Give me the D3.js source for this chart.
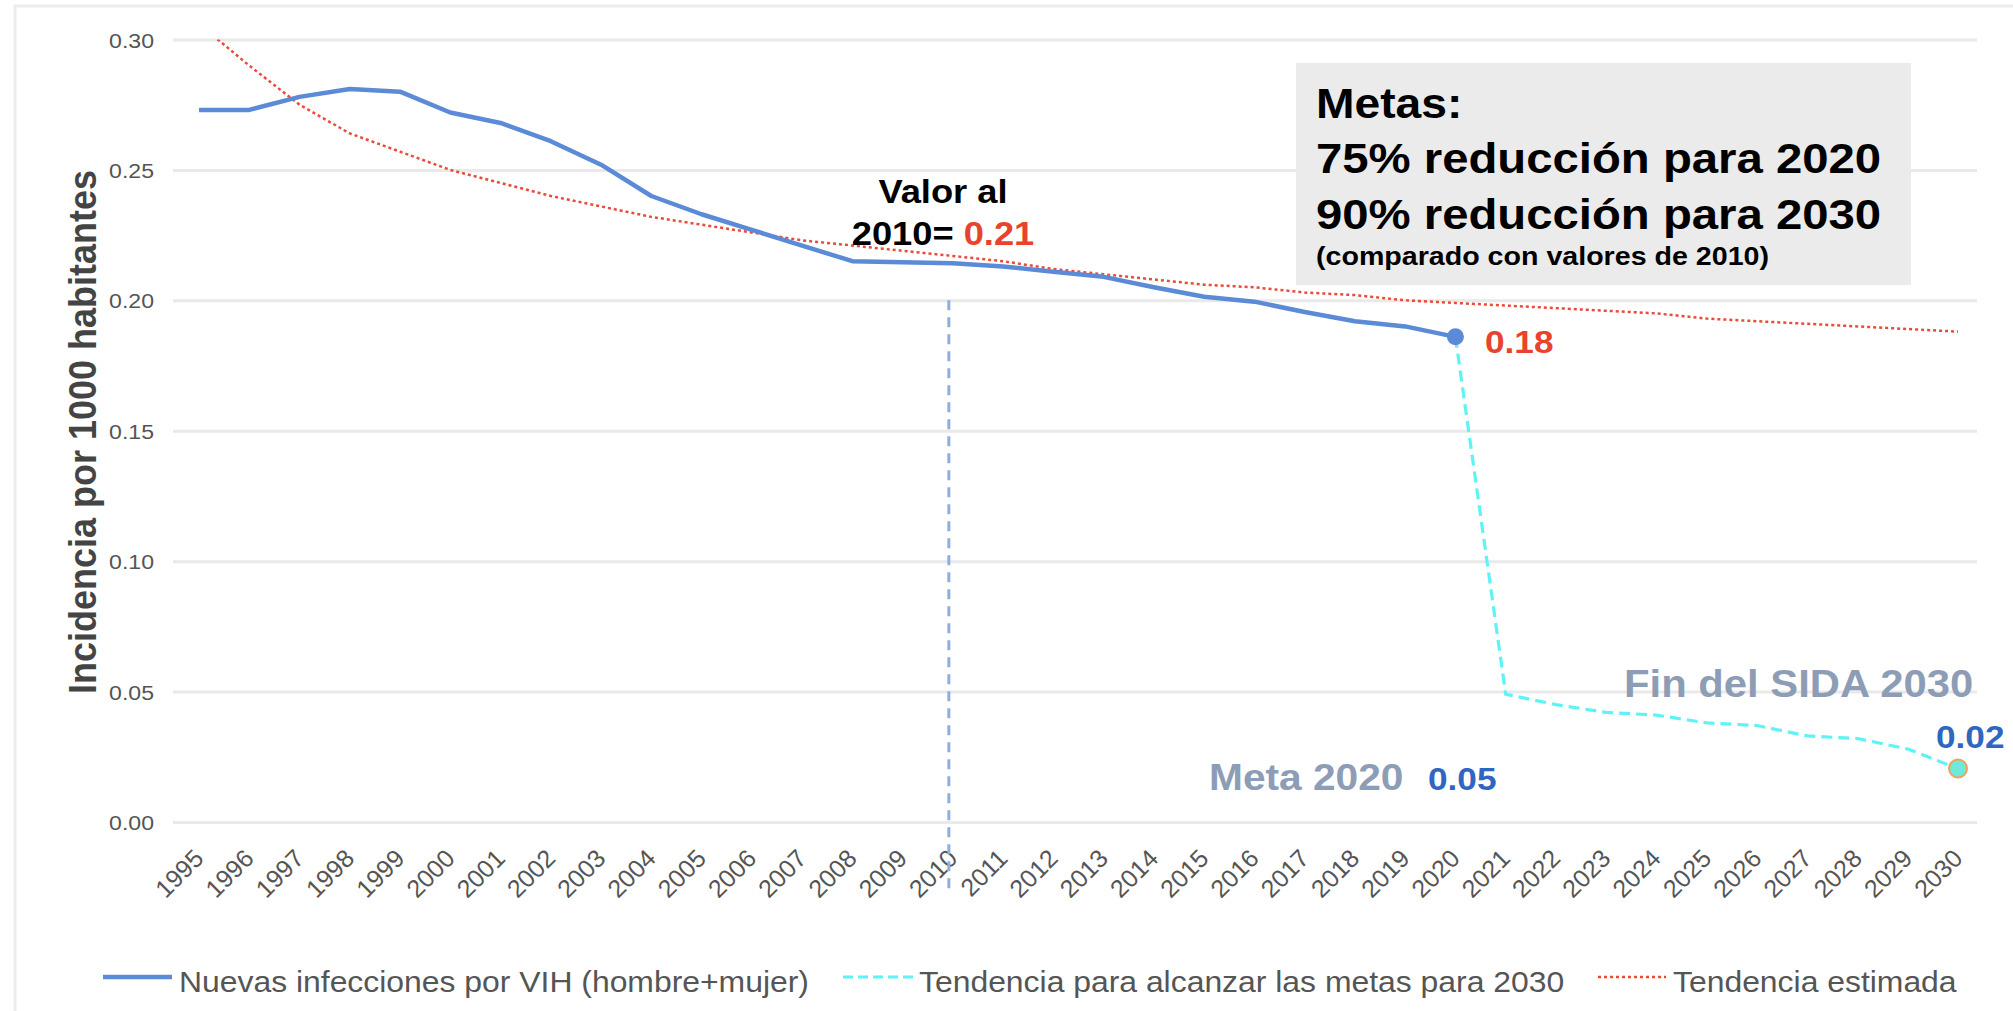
<!DOCTYPE html>
<html>
<head>
<meta charset="utf-8">
<script src="https://cdn.jsdelivr.net/npm/d3@7"></script>
<style>
  html, body { margin: 0; padding: 0; background: #fff; }
  svg { display: block; }
  text { font-family: "Liberation Sans", Arial, Helvetica, sans-serif; }
</style>
</head>
<body>
<svg id="chart" width="2013" height="1011"></svg>
<script>
// ---------- data ----------
const years = ["1995","1996","1997","1998","1999","2000","2001","2002","2003","2004","2005","2006",
  "2007","2008","2009","2010","2011","2012","2013","2014","2015","2016","2017","2018","2019","2020",
  "2021","2022","2023","2024","2025","2026","2027","2028","2029","2030"];
const yTicks = [0, 0.05, 0.10, 0.15, 0.20, 0.25, 0.30];
const yTickLabels = ["0.00","0.05","0.10","0.15","0.20","0.25","0.30"];

// Nuevas infecciones por VIH (1995-2020)
const nuevasYears = years.slice(0, 26);
const nuevas = [0.273, 0.273, 0.278, 0.281, 0.280, 0.272, 0.268, 0.261, 0.252, 0.240, 0.233, 0.227,
  0.221, 0.215, 0.2146, 0.2142, 0.213, 0.211, 0.209, 0.205, 0.2014, 0.1995, 0.1955, 0.192, 0.190, 0.186];

// Tendencia para alcanzar las metas (2020-2030)
const metasYears = years.slice(25);
const metas = [0.186, 0.049, 0.045, 0.042, 0.041, 0.038, 0.037, 0.033, 0.032, 0.028, 0.0205];

// Tendencia estimada (1995-2030)
const estimada = [0.306, 0.290, 0.275, 0.264, 0.257, 0.250, 0.245, 0.240, 0.236, 0.232, 0.229, 0.226,
  0.223, 0.221, 0.219, 0.217, 0.215, 0.212, 0.210, 0.208, 0.206, 0.205, 0.203, 0.202, 0.200, 0.199,
  0.198, 0.197, 0.196, 0.195, 0.193, 0.192, 0.191, 0.190, 0.189, 0.188];

const legendLabels = ["Nuevas infecciones por VIH (hombre+mujer)", "Tendencia para alcanzar las metas para 2030", "Tendencia estimada"];

// ---------- layout ----------
const SX = 1.1; // horizontal stretch of the reference text
const svg = d3.select("#chart");
const x = d3.scaleLinear().domain([1995, 2030]).range([199, 1958]);
const y = d3.scaleLinear().domain([0, 0.30]).range([822, 39.5]);
const gridX0 = 173, gridX1 = 1977;

const C = {
  blue: "#5b8ad6", cyan: "#5ff2f6", red: "#ea4a3a", grid: "#e9e9e9",
  tick: "#555", title: "#444", darkBlue: "#2f66bf", grayBlue: "#8d9db6", redLbl: "#e8432d"
};

function txt(parent, px, py, s, size, opt = {}) {
  const sx = opt.sx !== undefined ? opt.sx : SX;
  const t = parent.append("text")
    .attr("transform", `translate(${px},${py}) scale(${sx},1)` + (opt.rot ? ` rotate(${opt.rot})` : ""))
    .attr("font-size", size)
    .attr("font-weight", opt.bold ? "bold" : "normal")
    .attr("fill", opt.fill || "#000")
    .attr("text-anchor", opt.anchor || "start");
  if (s !== null) t.text(s);
  return t;
}

// outer frame
svg.append("path").attr("d", "M15,1011 L15,6 L2013,6").attr("fill", "none")
  .attr("stroke", "#ececec").attr("stroke-width", 3);

// gridlines (y axis)
const yAxis = d3.axisLeft(y).tickValues(yTicks).tickSize(-(gridX1 - gridX0)).tickFormat("");
const gy = svg.append("g").attr("transform", `translate(${gridX0},0)`).call(yAxis);
gy.select(".domain").remove();
gy.selectAll(".tick line").attr("stroke", C.grid).attr("stroke-width", 3);

yTicks.forEach((v, i) => {
  txt(svg, 154, y(v) + 8, yTickLabels[i], 21, { fill: C.tick, anchor: "end" });
});

// x tick labels
years.forEach(yr => {
  txt(svg, x(+yr) + 6, 860, yr, 25, { fill: C.tick, anchor: "end", rot: -45, sx: 1 });
});

// y-axis title
txt(svg, 96, 432, "Incidencia por 1000 habitantes", 36, { bold: true, fill: C.title, anchor: "middle", rot: -90 });

// Metas box
svg.append("rect").attr("x", 1296).attr("y", 63).attr("width", 615).attr("height", 222).attr("fill", "#ebebeb");
txt(svg, 1316, 118, "Metas:", 42, { bold: true });
txt(svg, 1316, 173, "75% reducción para 2020", 43, { bold: true });
txt(svg, 1316, 229, "90% reducción para 2030", 43, { bold: true });
txt(svg, 1316, 265, "(comparado con valores de 2010)", 26, { bold: true });

// 2010 dashed reference
svg.append("line").attr("x1", x(2010) - 4).attr("x2", x(2010) - 4)
  .attr("y1", y(0.2)).attr("y2", 894)
  .attr("stroke", "#8eaee0").attr("stroke-width", 3).attr("stroke-dasharray", "10,7");

// lines
svg.append("clipPath").attr("id", "plotclip").append("rect")
  .attr("x", 0).attr("y", y(0.30)).attr("width", 2013).attr("height", 1011);

const line = d3.line().x(d => x(+d[0])).y(d => y(d[1]));

svg.append("path").datum(years.map((yr, i) => [yr, estimada[i]]))
  .attr("d", line).attr("fill", "none").attr("stroke", C.red).attr("stroke-width", 2.5)
  .attr("stroke-dasharray", "3,3").attr("clip-path", "url(#plotclip)");

svg.append("path").datum(metasYears.map((yr, i) => [yr, metas[i]]))
  .attr("d", line).attr("fill", "none").attr("stroke", C.cyan).attr("stroke-width", 3.2)
  .attr("stroke-dasharray", "11,6");

svg.append("path").datum(nuevasYears.map((yr, i) => [yr, nuevas[i]]))
  .attr("d", line).attr("fill", "none").attr("stroke", C.blue).attr("stroke-width", 4.5)
  .attr("stroke-linejoin", "round");

// markers
svg.append("circle").attr("cx", x(2020)).attr("cy", y(nuevas[nuevas.length - 1])).attr("r", 8.5).attr("fill", C.blue);
svg.append("circle").attr("cx", x(2030)).attr("cy", y(metas[metas.length - 1])).attr("r", 9)
  .attr("fill", "#6fe9da").attr("stroke", "#eda35a").attr("stroke-width", 2);

// annotations
txt(svg, 943, 203, "Valor al", 33, { bold: true, anchor: "middle" });
const t2010 = txt(svg, 943, 245, null, 33, { bold: true, anchor: "middle" });
t2010.append("tspan").text("2010= ");
t2010.append("tspan").attr("fill", C.redLbl).text("0.21");

txt(svg, 1485, 353, "0.18", 32, { bold: true, fill: C.redLbl });
txt(svg, 1209, 790, "Meta 2020", 37, { bold: true, fill: C.grayBlue });
txt(svg, 1428, 790, "0.05", 32, { bold: true, fill: C.darkBlue });
txt(svg, 1624, 697, "Fin del SIDA 2030", 38, { bold: true, fill: C.grayBlue });
txt(svg, 1936, 748, "0.02", 32, { bold: true, fill: C.darkBlue });

// legend
const ly = 977;
svg.append("line").attr("x1", 103).attr("x2", 172).attr("y1", ly).attr("y2", ly)
  .attr("stroke", C.blue).attr("stroke-width", 4.5);
txt(svg, 179, 992, legendLabels[0], 29, { fill: C.tick });
svg.append("line").attr("x1", 843).attr("x2", 914).attr("y1", ly).attr("y2", ly)
  .attr("stroke", C.cyan).attr("stroke-width", 3).attr("stroke-dasharray", "10,5");
txt(svg, 919, 992, legendLabels[1], 29, { fill: C.tick });
svg.append("line").attr("x1", 1598).attr("x2", 1666).attr("y1", ly).attr("y2", ly)
  .attr("stroke", C.red).attr("stroke-width", 2.5).attr("stroke-dasharray", "3,3");
txt(svg, 1673, 992, legendLabels[2], 29, { fill: C.tick });
</script>
</body>
</html>
